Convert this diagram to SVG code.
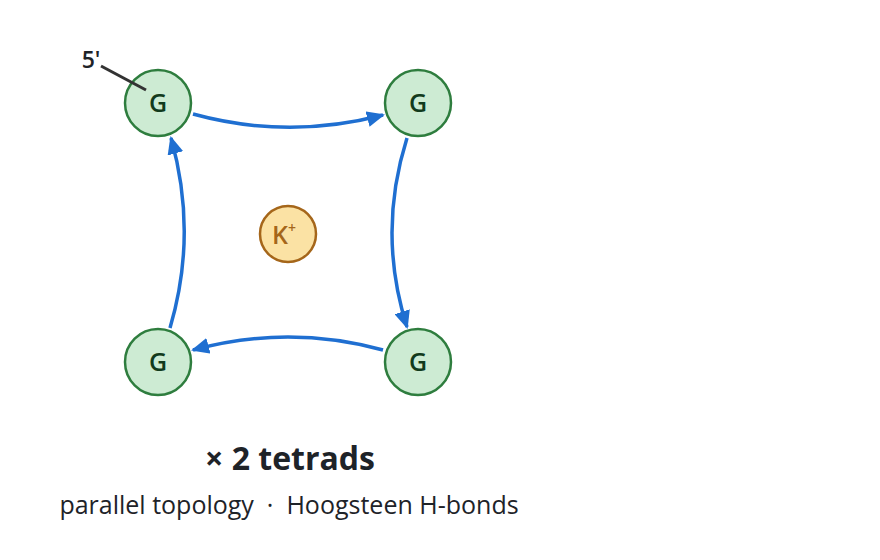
<svg xmlns="http://www.w3.org/2000/svg" width="880" height="560" viewBox="0 0 880 560">
<style>
.g circle{fill:#cdebd3;stroke:#2e7d3e;stroke-width:2.5}
.g text{font-family:"Open Sans","Noto Sans",sans-serif;font-size:25px;font-weight:600;fill:#123a1c;text-anchor:middle}
.c path{fill:none;stroke:#1f6fd1;stroke-width:3.5;marker-end:url(#a)}
</style>
<defs><marker id="a" markerWidth="18" markerHeight="16" refX="16" refY="8" orient="auto" markerUnits="userSpaceOnUse" viewBox="0 0 18 16"><path d="M0,0 L18,8 L0,16 z" fill="#1f6fd1"/></marker></defs>
<rect width="880" height="560" fill="#fff"/>
<g class="c">
<path d="M193,114 Q288,140 383,115"/>
<path d="M407,138 Q377,233 407,327"/>
<path d="M383,350 Q288,324 193,350"/>
<path d="M170,328 Q198,233 171,138"/>
</g>
<g id="n1" class="g"><circle cx="158" cy="103" r="33"/><text x="158" y="112">G</text></g>
<g id="n2" class="g"><circle cx="418" cy="103" r="33"/><text x="418" y="112">G</text></g>
<g id="n3" class="g"><circle cx="418" cy="362" r="33"/><text x="418" y="371">G</text></g>
<g id="n4" class="g"><circle cx="158" cy="362" r="33"/><text x="158" y="371">G</text></g>
<g id="k"><circle cx="288" cy="234" r="28" fill="#fbe2a4" stroke="#a5661a" stroke-width="2.5"/><text x="284" y="244" font-family="Open Sans,sans-serif" font-size="25" font-weight="600" fill="#a5661a" text-anchor="middle">K<tspan font-size="14" dy="-11">+</tspan></text></g>
<g id="label5"><line x1="101" y1="66" x2="146" y2="90" stroke="#333" stroke-width="3"/><text x="91" y="68" font-family="Open Sans,sans-serif" font-size="23" font-weight="600" fill="#1e2328" text-anchor="middle">5'</text></g>
<text x="290" y="470" font-family="Open Sans,sans-serif" font-size="32" font-weight="700" fill="#1e2328" text-anchor="middle">× 2 tetrads</text>
<text x="289" y="514" font-family="Open Sans,sans-serif" font-size="25" fill="#1e2328" text-anchor="middle" xml:space="preserve">parallel topology  ·  Hoogsteen H-bonds</text>
</svg>
